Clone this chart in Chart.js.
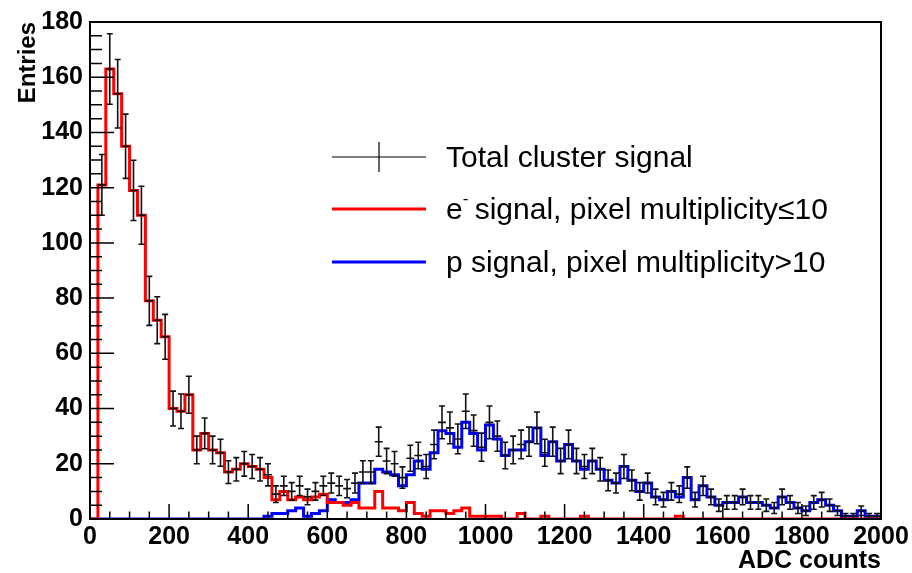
<!DOCTYPE html>
<html>
<head>
<meta charset="utf-8">
<script src="https://cdn.jsdelivr.net/npm/chart.js@4.4.1/dist/chart.umd.min.js"></script>
<style>
  html, body { margin: 0; padding: 0; background: #fff; }
  #wrap { width: 912px; height: 573px; }
</style>
</head>
<body>
<div id="wrap"><canvas id="chart" width="912" height="573"></canvas></div>
<script>
// histogram: 100 bins of 20 ADC counts from 0 to 2000
const binStart = 0;
const binWidth = 20;
const nBins = 100;

const totalCounts = [
  0, 121, 163, 154, 135, 119, 110, 79, 72, 66,
  40, 39, 45, 25, 31, 25, 24, 17, 18, 20,
  19, 18, 16, 9, 12, 10, 12, 8, 10, 12,
  13, 12, 11, 13, 17, 17, 28, 21, 20, 15,
  22, 23, 19, 27, 35, 33, 29, 39, 32, 26,
  35, 30, 23, 25, 27, 28, 33, 24, 28, 21,
  27, 21, 19, 21, 18, 14, 13, 19, 14, 10,
  13, 8, 7, 10, 9, 15, 7, 12, 8, 5,
  6, 6, 8, 6, 6, 5, 4, 8, 6, 4,
  3, 6, 7, 5, 3, 1, 1, 3, 1, 1
];

const electronCounts = [
  0, 121, 163, 154, 135, 119, 110, 79, 72, 66,
  40, 39, 45, 25, 31, 25, 24, 17, 18, 20,
  19, 18, 15, 7, 10, 7, 8, 7, 8, 9,
  6, 6, 5, 6, 4, 4, 10, 4, 4, 3,
  6, 2, 1, 3, 3, 2, 3, 4, 1, 1,
  1, 1, 0, 0, 2, 0, 0, 1, 0, 0,
  0, 0, 1, 0, 0, 0, 0, 0, 0, 0,
  0, 0, 0, 0, 1, 0, 0, 0, 0, 0,
  0, 0, 0, 0, 0, 0, 0, 0, 0, 0,
  0, 0, 0, 0, 0, 0, 0, 0, 0, 0
];

const protonCounts = [
  0, 0, 0, 0, 0, 0, 0, 0, 0, 0,
  0, 0, 0, 0, 0, 0, 0, 0, 0, 0,
  0, 0, 1, 2, 2, 3, 4, 1, 2, 3,
  7, 6, 6, 7, 13, 13, 18, 17, 16, 12,
  16, 21, 18, 24, 32, 31, 26, 35, 31, 25,
  34, 29, 23, 25, 25, 28, 33, 23, 28, 21,
  27, 21, 18, 21, 18, 14, 13, 19, 14, 10,
  13, 8, 7, 10, 8, 15, 7, 12, 8, 5,
  6, 6, 8, 6, 6, 5, 4, 8, 6, 4,
  3, 6, 7, 5, 3, 1, 1, 3, 1, 1
];

const xTickLabels = [0, 200, 400, 600, 800, 1000, 1200, 1400, 1600, 1800, 2000];
const yTickLabels = [0, 20, 40, 60, 80, 100, 120, 140, 160, 180];

const legendLabels = [
  "Total cluster signal",
  "e- signal, pixel multiplicity\u226410",
  "p signal, pixel multiplicity>10"
];

// points on bin low edges, last point closes the final bin
function stepPoints(counts) {
  const pts = counts.map((v, i) => ({ x: binStart + i * binWidth, y: v }));
  pts.push({ x: binStart + nBins * binWidth, y: counts[counts.length - 1] });
  return pts;
}

const axisFont = { family: "'Liberation Sans', Arial, sans-serif", size: 25, weight: "bold" };

const rootStyle = {
  id: "rootStyle",
  afterDatasetsDraw(chart) {
    const { ctx, chartArea: a, scales: { x, y } } = chart;
    ctx.save();

    // total signal: bin-wide marks with sqrt(N) error bars
    ctx.strokeStyle = "#111";
    ctx.lineWidth = 1.6;
    totalCounts.forEach((n, i) => {
      const x0 = x.getPixelForValue(binStart + i * binWidth);
      const x1 = x.getPixelForValue(binStart + (i + 1) * binWidth);
      const xc = (x0 + x1) / 2;
      const yc = y.getPixelForValue(n);
      ctx.beginPath();
      ctx.moveTo(x0, yc);
      ctx.lineTo(x1, yc);
      if (n > 0) {
        const err = Math.sqrt(n);
        const yl = y.getPixelForValue(Math.max(0, n - err));
        const yh = y.getPixelForValue(n + err);
        ctx.moveTo(xc, yl);
        ctx.lineTo(xc, yh);
        ctx.moveTo(xc - 3, yl);
        ctx.lineTo(xc + 3, yl);
        ctx.moveTo(xc - 3, yh);
        ctx.lineTo(xc + 3, yh);
      }
      ctx.stroke();
    });

    // frame
    ctx.strokeStyle = "#000";
    ctx.lineWidth = 2;
    ctx.strokeRect(a.left, a.top, a.right - a.left, a.bottom - a.top);

    // inward ticks
    ctx.lineWidth = 1.5;
    ctx.beginPath();
    for (let v = 0; v <= 180; v += 5) {
      const py = y.getPixelForValue(v);
      const len = v % 20 === 0 ? 24 : 12;
      ctx.moveTo(a.left, py);
      ctx.lineTo(a.left + len, py);
    }
    for (let v = 0; v <= 2000; v += 50) {
      const px = x.getPixelForValue(v);
      const len = v % 200 === 0 ? 15 : 7.5;
      ctx.moveTo(px, a.bottom);
      ctx.lineTo(px, a.bottom - len);
    }
    ctx.stroke();

    // legend
    const lx0 = 332, lx1 = 426, tx = 446;
    const rows = [157, 209, 262];
    ctx.lineWidth = 1.2;
    ctx.strokeStyle = "#000";
    ctx.beginPath();
    ctx.moveTo(lx0, rows[0]); ctx.lineTo(lx1, rows[0]);
    ctx.moveTo((lx0 + lx1) / 2, rows[0] - 15); ctx.lineTo((lx0 + lx1) / 2, rows[0] + 15);
    ctx.stroke();
    ctx.lineWidth = 3;
    ctx.strokeStyle = "#ff0000";
    ctx.beginPath(); ctx.moveTo(lx0, rows[1]); ctx.lineTo(lx1, rows[1]); ctx.stroke();
    ctx.strokeStyle = "#0000ff";
    ctx.beginPath(); ctx.moveTo(lx0, rows[2]); ctx.lineTo(lx1, rows[2]); ctx.stroke();

    ctx.fillStyle = "#000";
    ctx.textBaseline = "alphabetic";
    ctx.textAlign = "left";
    const lf = "30px 'Liberation Sans', Arial, sans-serif";
    ctx.font = lf;
    ctx.fillText(legendLabels[0], tx, rows[0] + 10);
    // e with superscript minus
    ctx.fillText("e", tx, rows[1] + 10);
    const ew = ctx.measureText("e").width;
    ctx.font = "17px 'Liberation Sans', Arial, sans-serif";
    ctx.fillText("-", tx + ew, rows[1] - 5);
    const mw = ctx.measureText("-").width;
    ctx.font = lf;
    ctx.fillText(legendLabels[1].slice(2), tx + ew + mw - 2, rows[1] + 10);
    ctx.fillText(legendLabels[2], tx, rows[2] + 10);

    ctx.restore();
  }
};

const ctx = document.getElementById("chart");
const chart = new Chart(ctx, {
  type: "line",
  data: {
    datasets: [
      {
        label: legendLabels[1],
        data: stepPoints(electronCounts),
        stepped: "before",
        borderColor: "#ff0000",
        borderWidth: 3,
        pointRadius: 0,
        fill: false,
        order: 1
      },
      {
        label: legendLabels[2],
        data: stepPoints(protonCounts),
        stepped: "before",
        borderColor: "#0000ff",
        borderWidth: 3,
        pointRadius: 0,
        fill: false,
        order: 2
      }
    ]
  },
  options: {
    responsive: false,
    animation: false,
    layout: { padding: { top: 17, right: 31, left: 0, bottom: 0 } },
    plugins: { legend: { display: false }, tooltip: { enabled: false } },
    scales: {
      x: {
        type: "linear",
        min: 0,
        max: 2000,
        afterBuildTicks: s => { s.ticks = xTickLabels.map(v => ({ value: v })); },
        afterFit: s => { s.height = 54; },
        grid: { display: false, drawTicks: false },
        border: { display: false },
        ticks: { color: "#000", font: axisFont, padding: 3, maxRotation: 0, autoSkip: false,
                 callback: v => String(v) },
        title: {
          display: true, text: "ADC counts", align: "end", color: "#000",
          font: { family: axisFont.family, size: 25, weight: "bold" }, padding: { bottom: -3 }
        }
      },
      y: {
        min: 0,
        max: 180,
        afterBuildTicks: s => { s.ticks = yTickLabels.map(v => ({ value: v })); },
        afterFit: s => { s.width = 90; },
        grid: { display: false, drawTicks: false },
        border: { display: false },
        ticks: { color: "#000", font: axisFont, padding: 7, callback: v => String(v) },
        title: {
          display: true, text: "Entries", align: "end", color: "#000",
          font: { family: axisFont.family, size: 24, weight: "bold" }, padding: { top: 14 }
        }
      }
    }
  },
  plugins: [rootStyle]
});
</script>
</body>
</html>
